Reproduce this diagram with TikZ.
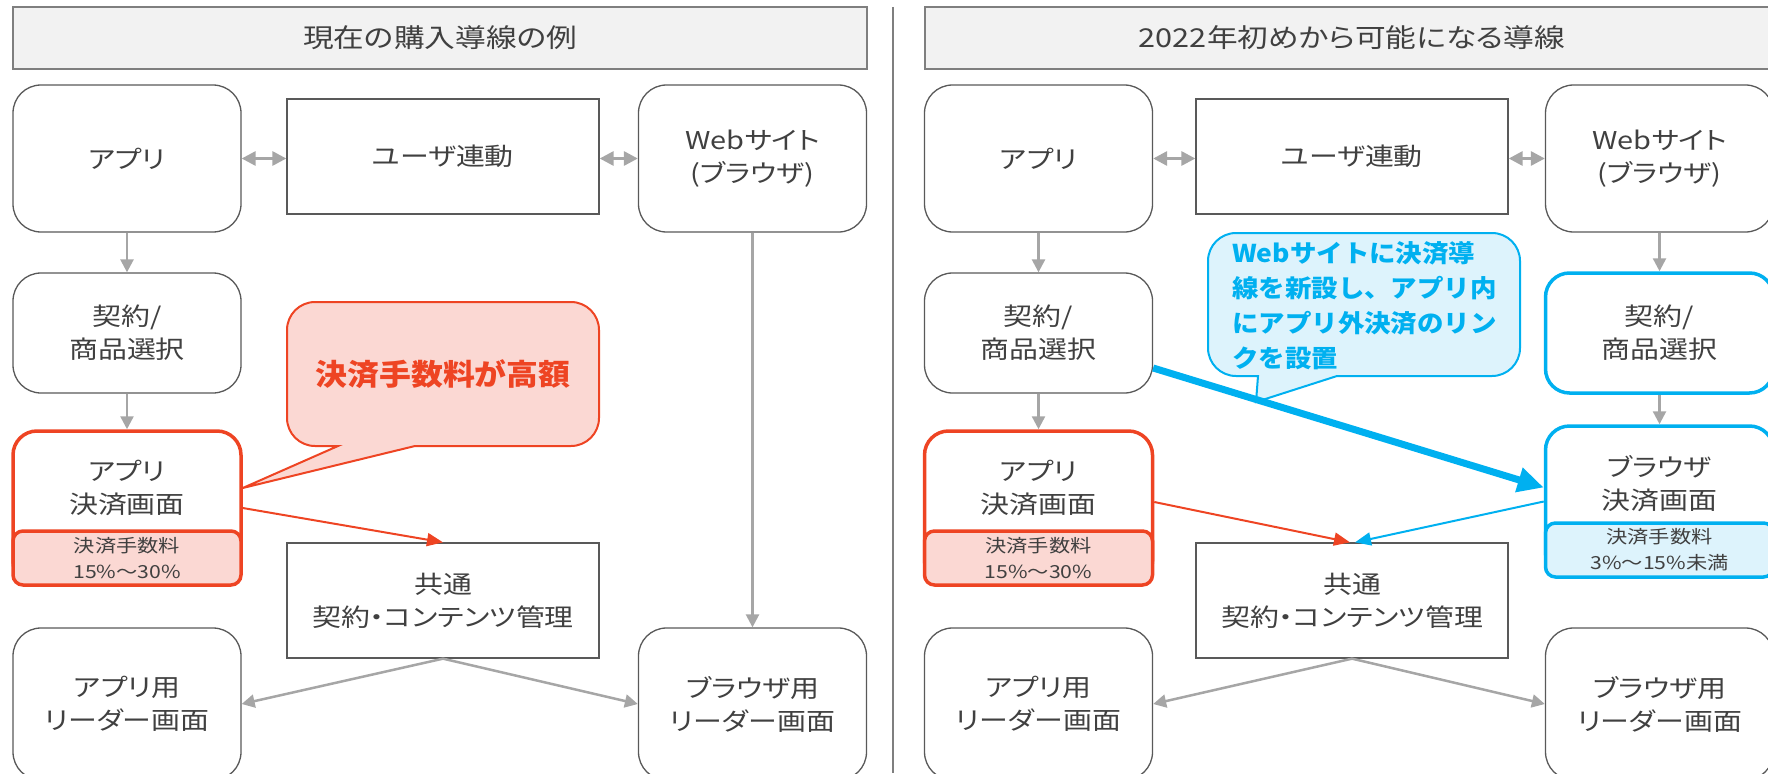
\documentclass[tikz,border=0pt]{standalone}
\usepackage{fontspec}
\usetikzlibrary{arrows.meta,calc}
\newfontfamily\jp[FakeStretch=1.18,RawFeature=+palt]{Noto Sans CJK JP}
\newfontfamily\jpc[FakeStretch=1.08]{Noto Sans CJK JP}
\definecolor{bd}{HTML}{595959}
\definecolor{tx}{HTML}{404040}
\definecolor{ga}{HTML}{A6A6A6}
\definecolor{rd}{HTML}{EE4423}
\definecolor{pk}{HTML}{FBD8D3}
\definecolor{bl}{HTML}{00B0F0}
\definecolor{lb}{HTML}{DDF3FC}
\definecolor{tb}{HTML}{F2F2F2}
\definecolor{tbd}{HTML}{7F7F7F}
\newcommand\mainf{\jp\fontsize{24.5}{33}\selectfont}
\newcommand\titf{\jp\fontsize{26}{30}\selectfont}
\newcommand\feef{\jp\fontsize{18}{26}\selectfont}
\begin{document}
\begin{tikzpicture}[x=1pt,y=-1pt,
 wbox/.style={draw=bd,line width=1.3pt,fill=white,rounded corners=28pt,minimum width=228pt,minimum height=147pt,inner sep=0pt,align=center,font=\mainf,text=tx},
 mbox/.style={draw=bd,line width=1.3pt,fill=white,minimum width=312pt,minimum height=115pt,inner sep=0pt,align=center,font=\mainf,text=tx},
 tbox/.style={draw=tbd,line width=1.5pt,fill=tb,minimum width=854pt,minimum height=62pt,inner sep=0pt,font=\titf,text=tx},
 rbox/.style={draw=rd,line width=3.5pt,fill=white,rounded corners=24pt,minimum width=228pt,minimum height=154pt,inner sep=0pt},
 bbox/.style={draw=bl,line width=3.5pt,fill=white,rounded corners=24pt,minimum width=228pt,minimum height=151pt,inner sep=0pt},
 bkbox/.style={draw=bl,line width=3.5pt,fill=white,rounded corners=24pt,minimum width=228pt,minimum height=120pt,inner sep=0pt,align=center,font=\mainf,text=tx},
 feer/.style={draw=rd,line width=3.5pt,fill=pk,rounded corners=10pt,minimum width=228pt,minimum height=54pt,inner sep=0pt,align=center,font=\feef,text=tx},
 feeb/.style={draw=bl,line width=3.5pt,fill=lb,rounded corners=10pt,minimum width=228pt,minimum height=54pt,inner sep=0pt,align=center,font=\feef,text=tx},
 lbl/.style={inner sep=0pt,align=center,font=\mainf,text=tx},
 garr/.style={draw=ga,line width=2.5pt,-{Triangle[length=13pt,width=13pt]}},
 gdbl/.style={draw=ga,line width=3pt,{Triangle[length=14pt,width=14pt]}-{Triangle[length=14pt,width=14pt]}},
 rarr/.style={draw=rd,line width=2pt,-{Triangle[length=16pt,width=13pt]}},
 barr/.style={draw=bl,line width=2pt,-{Triangle[length=16pt,width=13pt]}},
 bigarr/.style={draw=bl,line width=7pt,-{Triangle[length=26pt,width=24pt]}},
]
\useasboundingbox (0,0) rectangle (1768,773);
% titles and divider
\node[tbox] (tL) at (440,38) {現在の購入導線の例};
\node[tbox] (tR) at (1352,38) {2022年初めから可能になる導線};
\coordinate (dvT) at (893,7);
\coordinate (dvB) at (893,773);
\draw[tbd,line width=1.5pt] (dvT) -- (dvB);

% ---------- left panel ----------
\node[wbox] (appL) at (127,158.5) {アプリ};
\node[mbox] (userL) at (443,156.5) {ユーザ連動};
\node[wbox] (webL) at (752.5,158.5) {Webサイト\\(ブラウザ)};
\node[wbox,minimum height=120pt] (keiL) at (127,333) {契約/\\商品選択};
\node[rbox] (payL) at (127,508) {};
\node[feer] (feeL) at (127,558) {決済手数料\\15\%～30\%};
\node[lbl] (payLt) at (127,488) {アプリ\\決済画面};
\node[mbox] (comL) at (443,600.5) {共通\\契約・コンテンツ管理};
\node[wbox,minimum height=152pt] (rdL) at (127,704) {アプリ用\\リーダー画面};
\node[wbox,minimum height=152pt] (brL) at (752.5,704) {ブラウザ用\\リーダー画面};

\draw[gdbl] (appL.east) -- (appL.east -| userL.west);
\draw[gdbl] (userL.east |- webL.west) -- (webL.west);
\draw[garr] (appL) -- (keiL);
\draw[garr] (keiL) -- (payL);
\draw[garr] (webL) -- (brL);
\draw[rarr] (payL.east) -- (comL.north);
\draw[garr] (comL.south) -- (rdL.east);
\draw[garr] (comL.south) -- (brL.west);

% red callout
\coordinate (tipL) at ([yshift=20pt]payL.east);
\path[draw=rd,fill=pk,line width=2pt] (338,446) -- (tipL) -- (415,446) -- (571,446)
  arc[start angle=90,end angle=0,radius=28] -- (599,330)
  arc[start angle=0,end angle=-90,radius=28] -- (315,302)
  arc[start angle=-90,end angle=-180,radius=28] -- (287,418)
  arc[start angle=180,end angle=90,radius=28] -- cycle;
\node[inner sep=0pt,font=\jpc\bfseries\fontsize{29.5}{34}\selectfont,text=rd] (cRt) at (443,374) {決済手数料が高額};

% ---------- right panel ----------
\node[wbox] (appR) at (1038.5,158.5) {アプリ};
\node[mbox] (userR) at (1352,156.5) {ユーザ連動};
\node[wbox] (webR) at (1659.5,158.5) {Webサイト\\(ブラウザ)};
\node[wbox,minimum height=120pt] (keiR) at (1038.5,333) {契約/\\商品選択};
\node[bkbox] (keiB) at (1659.5,333) {契約/\\商品選択};
\node[rbox] (payR) at (1038.5,508) {};
\node[feer] (feeR) at (1038.5,558) {決済手数料\\15\%～30\%};
\node[lbl] (payRt) at (1038.5,488) {アプリ\\決済画面};
\node[bbox] (bpay) at (1659.5,501.5) {};
\node[feeb] (feeB) at (1659.5,550) {決済手数料\\3\%～15\%未満};
\node[lbl] (bpayt) at (1659.5,483.5) {ブラウザ\\決済画面};
\node[mbox] (comR) at (1352,600.5) {共通\\契約・コンテンツ管理};
\node[wbox,minimum height=152pt] (rdR) at (1038.5,704) {アプリ用\\リーダー画面};
\node[wbox,minimum height=152pt] (brR) at (1659.5,704) {ブラウザ用\\リーダー画面};

\draw[gdbl] (appR.east) -- (appR.east -| userR.west);
\draw[gdbl] (userR.east |- webR.west) -- (webR.west);
\draw[garr] (appR) -- (keiR);
\draw[garr] (keiR) -- (payR);
\draw[garr] (webR) -- (keiB);
\draw[garr] (keiB) -- (bpay);
\draw[rarr] ([yshift=6pt]payR.east) -- ([xshift=-2pt]comR.north);
\draw[barr] (bpay.west) -- ([xshift=3pt]comR.north);
\draw[garr] (comR.south) -- (rdR.east);
\draw[garr] (comR.south) -- (brR.west);

% blue callout
\path[draw=bl,fill=lb,line width=2pt] (1258,376) -- (1256,402) -- (1337,376) -- (1492,376)
  arc[start angle=90,end angle=0,radius=28] -- (1520,261)
  arc[start angle=0,end angle=-90,radius=28] -- (1236,233)
  arc[start angle=-90,end angle=-180,radius=28] -- (1208,348)
  arc[start angle=180,end angle=90,radius=28] -- cycle;
\node[inner sep=0pt,anchor=west,align=left,font=\jpc\bfseries\fontsize{24.5}{35}\selectfont,text=bl] (cBt) at (1232,305.5) {Webサイトに決済導\\線を新設し、アプリ内\\にアプリ外決済のリン\\クを設置};
\draw[bigarr] ([yshift=-35pt]keiR.east) -- ([yshift=14pt]bpay.west);
\end{tikzpicture}
\end{document}
